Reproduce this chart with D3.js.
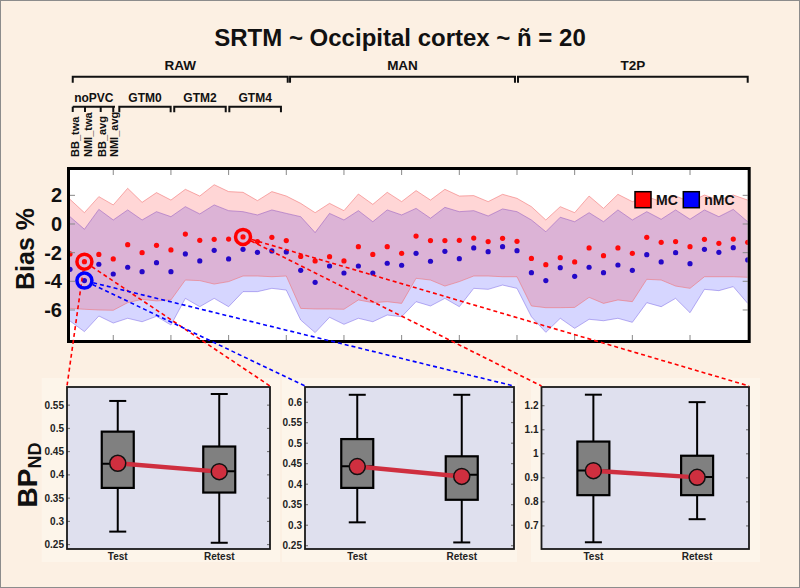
<!DOCTYPE html>
<html><head><meta charset="utf-8">
<script src="https://cdn.jsdelivr.net/npm/d3@7"></script>
<style>
html,body{margin:0;padding:0;background:#fcf0e3;}
svg{display:block;}
text{font-family:"Liberation Sans",Arial,Helvetica,sans-serif;}
</style></head><body>
<svg id="c" width="800" height="588"></svg>
<script>
// ---------------- DATA ----------------
const title = "SRTM ~ Occipital cortex ~ ñ = 20";
const seriesNames = ["MC", "nMC"];
const mcMean = [-2.09,-2.63,-2.12,-2.44,-1.44,-2.00,-1.49,-1.81,-0.70,-1.14,-1.07,-1.05,
  -0.90,-1.23,-0.93,-1.16,-2.26,-2.58,-2.28,-2.58,-1.58,-2.12,-1.58,-2.05,
  -0.84,-1.16,-1.16,-1.14,-0.98,-1.23,-1.00,-1.21,-2.40,-2.84,-2.35,-2.65,
  -1.67,-2.21,-1.67,-2.05,-0.93,-1.28,-1.23,-1.58,-1.07,-1.35,-1.05,-1.28];
const nmcMean = [-3.16,-3.95,-2.81,-3.49,-3.02,-3.33,-2.70,-3.33,-2.09,-2.58,-1.84,-2.44,
  -1.77,-1.98,-1.88,-1.95,-3.23,-4.07,-2.93,-3.42,-2.93,-3.42,-2.74,-2.88,
  -2.05,-2.60,-1.91,-2.42,-1.67,-1.93,-1.58,-1.86,-3.40,-3.95,-3.05,-3.65,
  -3.02,-3.40,-2.86,-3.23,-2.14,-2.65,-2.00,-2.77,-1.77,-1.98,-1.65,-2.51];
const mcHi = [1.72,0.79,1.91,1.33,2.49,1.51,2.19,1.67,2.42,1.95,2.74,2.26,
  2.21,1.63,2.26,1.95,1.44,0.79,1.44,0.93,2.09,1.37,2.21,1.56,
  2.33,1.67,2.42,1.95,1.98,1.56,2.07,1.79,1.21,0.28,1.21,0.79,
  1.95,1.09,2.07,1.56,1.91,1.56,1.95,1.56,2.02,1.67,2.02,1.67];
const mcLo = [-5.89,-5.95,-6.00,-6.02,-5.49,-5.26,-5.37,-5.30,-3.91,-3.95,-4.19,-4.02,
  -3.63,-3.63,-3.68,-3.63,-5.89,-5.93,-5.93,-5.95,-5.30,-5.49,-5.42,-5.54,
  -3.79,-3.91,-4.33,-4.02,-3.63,-3.63,-3.68,-3.68,-5.72,-5.84,-5.84,-5.82,
  -5.12,-5.54,-5.30,-5.42,-3.86,-3.91,-4.33,-4.49,-3.68,-3.68,-3.68,-3.72];
const nmcHi = [0.51,-0.37,1.02,0.28,0.98,0.28,0.86,0.51,1.21,0.70,1.33,0.93,
  0.86,0.63,0.98,0.74,0.51,-0.60,0.74,0.28,0.93,0.16,0.98,0.63,
  1.09,0.40,1.16,0.86,0.93,0.56,1.05,0.86,0.28,-0.54,0.47,0.16,
  0.79,0.16,0.98,0.28,0.86,0.33,0.98,0.33,0.98,0.51,1.02,0.16];
const nmcLo = [-6.77,-7.51,-6.42,-6.91,-6.58,-6.82,-6.44,-7.05,-5.19,-5.77,-5.19,-5.77,
  -4.72,-4.72,-4.49,-4.61,-6.70,-7.58,-6.51,-7.00,-6.58,-6.82,-6.35,-6.47,
  -5.42,-5.72,-5.19,-5.77,-4.49,-4.56,-4.26,-4.49,-6.47,-7.56,-6.58,-7.28,
  -6.65,-6.75,-6.58,-6.86,-5.49,-5.77,-5.19,-6.19,-4.56,-4.65,-4.37,-5.54];
const yTicks = [-6,-4,-2,0,2];
const xTicks = [4,8,12,16,20,24,28,32,36,40,44];
const groups = ["RAW","MAN","T2P"];
const groupSpan = [[1.19,16.10],[16.26,31.86],[32.07,48.0]];
const subGroups = ["noPVC","GTM0","GTM2","GTM4"];
const subSpan = [[1.19,4.12],[4.42,7.98],[8.23,11.80],[12.05,15.63]];
const methods = ["BB_twa","NMI_twa","BB_avg","NMI_avg"];
const methodPos = [1.35,2.27,3.20,4.05];
const methodTicks = [1.19,2.04,3.13,4.0];
// highlighted points -> panel index
const highlights = [{s:"MC", i:2, panel:0},{s:"nMC", i:2, panel:1},{s:"MC", i:13, panel:2}];
// box panels: [whiskerLow, Q1, median, Q3, whiskerHigh], mean
const sessions = ["Test","Retest"];
const boxStats = [
  [[0.278,0.372,0.424,0.493,0.559],[0.254,0.362,0.408,0.461,0.574]],
  [[0.307,0.391,0.444,0.510,0.618],[0.258,0.362,0.423,0.468,0.618]],
  [[0.632,0.828,0.931,1.051,1.246],[0.728,0.828,0.904,0.992,1.215]]
];
const boxMeans = [[0.425,0.407],[0.443,0.419],[0.930,0.902]];
const boxDomains = [[0.2406,0.589],[0.242,0.637],[0.604,1.278]];
const boxTicks = [
  [0.25,0.3,0.35,0.4,0.45,0.5,0.55],
  [0.25,0.3,0.35,0.4,0.45,0.5,0.55,0.6],
  [0.7,0.8,0.9,1.0,1.1,1.2]
];

// ---------------- LAYOUT ----------------
const W=800,H=588;
const svg=d3.select("#c");
svg.append("rect").attr("width",W).attr("height",H).attr("fill","#fcf0e3");

const M={l:70,r:747.7,t:170,b:340};
const x=d3.scaleLinear().domain([1,48]).range([M.l,M.r]);
const y=d3.scaleLinear().domain([-8.095,3.768]).range([M.b,M.t]);

// box panel backgrounds (subtle inset figure areas)
const PT=387,PB=549;
const panels=[[67,270],[305,514],[541.5,749]];
const insetBg=[[41.7,280],[282,517],[531,760]];
insetBg.forEach(([a,b])=>svg.append("rect").attr("x",a).attr("y",378).attr("width",b-a).attr("height",184).attr("fill","#fdf5ea"));
svg.append("rect").attr("x",0.5).attr("y",0.5).attr("width",W-1).attr("height",H-1)
  .attr("fill","none").attr("stroke","#8c8c8c");

// title
svg.append("text").attr("x",400).attr("y",46).attr("text-anchor","middle")
  .attr("font-size",24).attr("font-weight","bold").attr("fill","#111").text(title);

// group brackets
const br=svg.append("g").attr("stroke","#111").attr("stroke-width",2).attr("fill","none");
function bracket(a,b,yy,h){
  br.append("path").attr("d",`M${x(a)},${yy+h}V${yy}H${x(b)}V${yy+h}`);
}
groups.forEach((g,k)=>{
  bracket(groupSpan[k][0],groupSpan[k][1],76.7,6);
  svg.append("text").attr("x",(x(groupSpan[k][0])+x(groupSpan[k][1]))/2).attr("y",70)
    .attr("text-anchor","middle").attr("font-size",13.5).attr("font-weight","bold").attr("fill","#111").text(g);
});
subGroups.forEach((g,k)=>{
  if(k===0){
    br.append("path").attr("d",`M${x(subSpan[k][0])},106.7H${x(subSpan[k][1])}`);
    methodTicks.forEach(t=>br.append("path").attr("d",`M${x(t)},106.7V112`));
  } else bracket(subSpan[k][0],subSpan[k][1],106.7,5.5);
  svg.append("text").attr("x",(x(subSpan[k][0])+x(subSpan[k][1]))/2).attr("y",101.5)
    .attr("text-anchor","middle").attr("font-size",12).attr("font-weight","bold").attr("fill","#111").text(g);
});
methods.forEach((m,k)=>{
  svg.append("text").attr("transform",`translate(${x(methodPos[k])},157) rotate(-90)`)
    .attr("text-anchor","start").attr("dominant-baseline","central")
    .attr("font-size",11).attr("font-weight","bold").attr("fill","#111").text(m);
});

// main plot
svg.append("rect").attr("x",M.l).attr("y",M.t).attr("width",M.r-M.l).attr("height",M.b-M.t).attr("fill","#fff");
svg.append("defs").append("clipPath").attr("id","clip").append("rect")
  .attr("x",M.l).attr("y",M.t).attr("width",M.r-M.l).attr("height",M.b-M.t);
const pg=svg.append("g").attr("clip-path","url(#clip)");

function band(lo,hi,fill,edge){
  const ar=d3.area().x((d,i)=>x(i+1)).y0((d,i)=>y(lo[i])).y1((d,i)=>y(hi[i]));
  pg.append("path").attr("d",ar(lo)).attr("fill",fill).attr("stroke","none");
  const ln=arr=>d3.line().x((d,i)=>x(i+1)).y(d=>y(d))(arr);
  pg.append("path").attr("d",ln(lo)).attr("fill","none").attr("stroke",edge).attr("stroke-width",1);
  pg.append("path").attr("d",ln(hi)).attr("fill","none").attr("stroke",edge).attr("stroke-width",1);
}
band(nmcLo,nmcHi,"rgba(0,0,255,0.16)","rgba(120,100,230,0.5)");
band(mcLo,mcHi,"rgba(255,0,0,0.16)","rgba(240,110,110,0.55)");

pg.selectAll("circle.mc").data(mcMean).join("circle").attr("class","mc")
  .attr("cx",(d,i)=>x(i+1)).attr("cy",d=>y(d)).attr("r",2.6).attr("fill","#ff0a0a");
pg.selectAll("circle.nmc").data(nmcMean).join("circle").attr("class","nmc")
  .attr("cx",(d,i)=>x(i+1)).attr("cy",d=>y(d)).attr("r",2.6).attr("fill","#2408c8");

// ticks
const tk=svg.append("g").attr("stroke","#888").attr("stroke-width",1);
xTicks.forEach(t=>{
  tk.append("line").attr("x1",x(t)).attr("x2",x(t)).attr("y1",M.t).attr("y2",M.t+5);
  tk.append("line").attr("x1",x(t)).attr("x2",x(t)).attr("y1",M.b).attr("y2",M.b-5);
});
yTicks.forEach(t=>{
  tk.append("line").attr("x1",M.l).attr("x2",M.l+5).attr("y1",y(t)).attr("y2",y(t));
  tk.append("line").attr("x1",M.r).attr("x2",M.r-5).attr("y1",y(t)).attr("y2",y(t));
  svg.append("text").attr("x",62).attr("y",y(t)).attr("text-anchor","end").attr("dominant-baseline","central")
    .attr("font-size",20).attr("font-weight","bold").attr("fill","#111").text(t);
});
svg.append("rect").attr("x",M.l-1.5).attr("y",M.t-1.5).attr("width",M.r-M.l+3).attr("height",M.b-M.t+3)
  .attr("fill","none").attr("stroke","#000").attr("stroke-width",3);
svg.append("text").attr("transform",`translate(34,249) rotate(-90)`).attr("text-anchor","middle")
  .attr("font-size",25).attr("font-weight","bold").attr("fill","#111").text("Bias %");

// legend
const lg=svg.append("g").attr("transform","translate(635,191.7)");
[["MC","#ff0000",0],["nMC","#0000ff",48.3]].forEach(([n,c,dx])=>{
  lg.append("rect").attr("x",dx).attr("y",0).attr("width",16).attr("height",16).attr("fill",c).attr("stroke","#000").attr("stroke-width",1.5);
  lg.append("text").attr("x",dx+21).attr("y",13.5).attr("font-size",14).attr("font-weight","bold").attr("fill","#111").text(n);
});

// box panels
panels.forEach(([x0,x1],p)=>{
  const g=svg.append("g");
  const bx=d3.scaleLinear().domain([0.5,2.5]).range([x0,x1]);
  const by=d3.scaleLinear().domain(boxDomains[p]).range([PB,PT]);
  g.append("rect").attr("x",x0).attr("y",PT).attr("width",x1-x0).attr("height",PB-PT).attr("fill","#dfe0ee");
  boxTicks[p].forEach(t=>{
    g.append("line").attr("x1",x0).attr("x2",x0+3).attr("y1",by(t)).attr("y2",by(t)).attr("stroke","#666");
    g.append("line").attr("x1",x1).attr("x2",x1-3).attr("y1",by(t)).attr("y2",by(t)).attr("stroke","#666");
    g.append("text").attr("x",x0-3).attr("y",by(t)).attr("text-anchor","end").attr("dominant-baseline","central")
      .attr("font-size",10).attr("font-weight","bold").attr("fill","#222").text(+t.toFixed(2));
  });
  boxStats[p].forEach((s,k)=>{
    const cx=bx(k+1), bw=32, cw=17;
    g.append("line").attr("x1",cx).attr("x2",cx).attr("y1",by(s[0])).attr("y2",by(s[4])).attr("stroke","#000").attr("stroke-width",2);
    [s[0],s[4]].forEach(v=>g.append("line").attr("x1",cx-cw/2).attr("x2",cx+cw/2).attr("y1",by(v)).attr("y2",by(v)).attr("stroke","#000").attr("stroke-width",2));
    g.append("rect").attr("x",cx-bw/2).attr("y",by(s[3])).attr("width",bw).attr("height",by(s[1])-by(s[3]))
      .attr("fill","#808080").attr("stroke","#000").attr("stroke-width",2.2);
    g.append("line").attr("x1",cx-bw/2).attr("x2",cx+bw/2).attr("y1",by(s[2])).attr("y2",by(s[2])).attr("stroke","#000").attr("stroke-width",2);
    g.append("text").attr("x",cx).attr("y",560).attr("text-anchor","middle").attr("font-size",10)
      .attr("font-weight","bold").attr("fill","#222").text(sessions[k]);
  });
  g.append("line").attr("x1",bx(1)).attr("x2",bx(2)).attr("y1",by(boxMeans[p][0])).attr("y2",by(boxMeans[p][1]))
    .attr("stroke","#cf2f3f").attr("stroke-width",4.5);
  boxMeans[p].forEach((m,k)=>g.append("circle").attr("cx",bx(k+1)).attr("cy",by(m)).attr("r",8)
    .attr("fill","#cf2f3f").attr("stroke","#111").attr("stroke-width",1.5));
  g.append("rect").attr("x",x0).attr("y",PT).attr("width",x1-x0).attr("height",PB-PT).attr("fill","none")
    .attr("stroke","#1a1a1a").attr("stroke-width",1.8);
});

// BP_ND label
const bp=svg.append("text").attr("transform","translate(37,475) rotate(-90)").attr("text-anchor","middle")
  .attr("font-weight","bold").attr("fill","#111");
bp.append("tspan").attr("font-size",28).text("BP");
bp.append("tspan").attr("font-size",18).attr("dy",4).text("ND");

// highlight circles & connectors
highlights.forEach(h=>{
  const arr=h.s==="MC"?mcMean:nmcMean, col=h.s==="MC"?"#ff0000":"#0000ff";
  const cx=x(h.i), cy=y(arr[h.i-1]);
  const [x0,x1]=panels[h.panel];
  [x0,x1].forEach(tx=>{
    const dx=tx-cx, dy=PT-cy, L=Math.hypot(dx,dy);
    svg.append("line").attr("x1",cx+dx/L*9).attr("y1",cy+dy/L*9).attr("x2",tx).attr("y2",PT-1)
      .attr("stroke",col).attr("stroke-width",1.6).attr("stroke-dasharray","4,3");
  });
  svg.append("circle").attr("cx",cx).attr("cy",cy).attr("r",7.5).attr("fill","none").attr("stroke",col).attr("stroke-width",3.5);
});
</script>
</body></html>
